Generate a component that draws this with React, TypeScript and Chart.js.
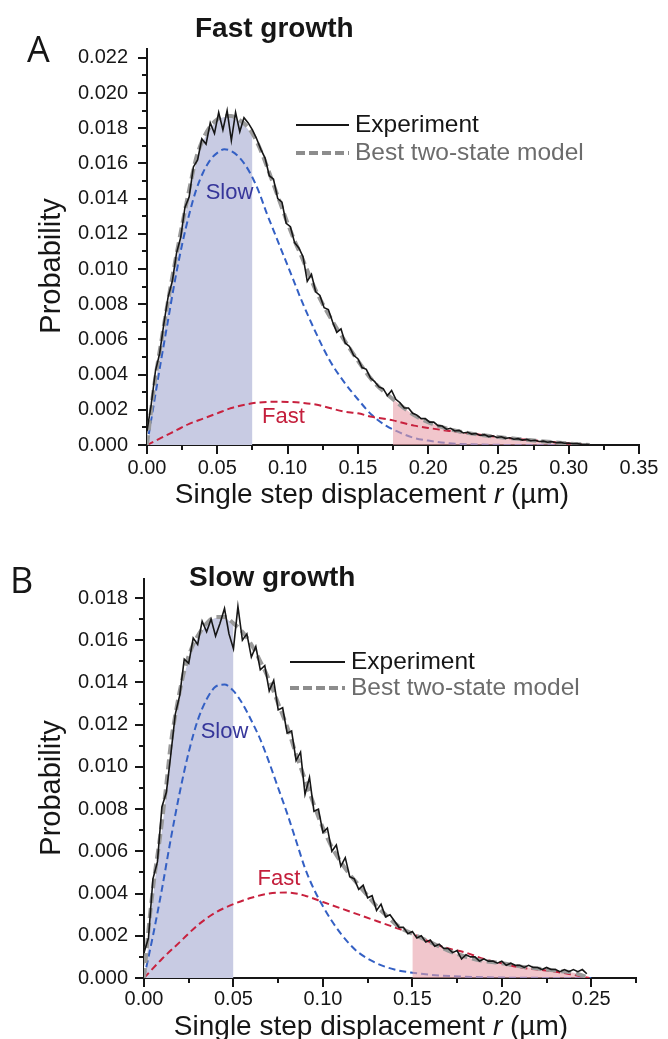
import React, { useEffect, useRef } from "react";
import { Chart, registerables } from "chart.js";

Chart.register(...registerables);

type Pt = [number, number];

const SANS = "'Liberation Sans', Arial, Helvetica, sans-serif";
const LETTER_FONT = "'Open Sans', 'DejaVu Sans', sans-serif";
const INK = "#161616";
const MODEL_GREY = "#9a9a9a";
const SLOW_BLUE = "#3460c4";
const FAST_RED = "#c8213e";
const SLOW_TEXT = "#36369a";
const FAST_TEXT = "#c41f3c";

// ---------------- Fast growth: displacement r (µm) vs probability ----------------
const fastGrowthExperiment: Pt[] = [
  [0, 0.0008], [0.003, 0.0023], [0.006, 0.0042], [0.009, 0.0052], [0.012, 0.0069], [0.015, 0.0084],
  [0.018, 0.0093], [0.021, 0.0109], [0.024, 0.0118], [0.027, 0.0135], [0.03, 0.0141], [0.033, 0.0158],
  [0.036, 0.0162], [0.039, 0.0174], [0.042, 0.0171], [0.045, 0.0183], [0.048, 0.0177], [0.051, 0.0189],
  [0.054, 0.0179], [0.057, 0.019], [0.06, 0.0173], [0.063, 0.0189], [0.066, 0.0178], [0.069, 0.0186],
  [0.072, 0.0183], [0.075, 0.0179], [0.078, 0.0174], [0.081, 0.0168], [0.084, 0.0163], [0.087, 0.0153],
  [0.09, 0.0151], [0.093, 0.014], [0.096, 0.0138], [0.099, 0.0126], [0.102, 0.0124], [0.105, 0.0115],
  [0.108, 0.0112], [0.111, 0.0107], [0.114, 0.0093], [0.117, 0.0097], [0.12, 0.0087], [0.123, 0.0085],
  [0.126, 0.0078], [0.129, 0.0077], [0.132, 0.007], [0.135, 0.0064], [0.138, 0.0066], [0.141, 0.0058],
  [0.144, 0.0056], [0.147, 0.0051], [0.15, 0.0049], [0.153, 0.0044], [0.156, 0.0043], [0.159, 0.0038],
  [0.162, 0.0036], [0.165, 0.0033], [0.168, 0.0032], [0.171, 0.0028], [0.174, 0.0031], [0.177, 0.0026],
  [0.18, 0.0024], [0.183, 0.0021], [0.186, 0.0021], [0.189, 0.0018], [0.192, 0.0017], [0.195, 0.0015],
  [0.198, 0.0015], [0.201, 0.0013], [0.204, 0.0013], [0.207, 0.0011], [0.21, 0.00108], [0.213, 0.0009],
  [0.216, 0.00095], [0.219, 0.0008], [0.222, 0.00083], [0.225, 0.00068], [0.228, 0.00072], [0.231, 0.00062],
  [0.234, 0.00065], [0.237, 0.00054], [0.24, 0.00059], [0.243, 0.00048], [0.246, 0.00052], [0.249, 0.00043],
  [0.252, 0.00047], [0.255, 0.00038], [0.258, 0.00041], [0.261, 0.00033], [0.264, 0.00036], [0.267, 0.00028],
  [0.27, 0.00032], [0.273, 0.00024], [0.276, 0.00027], [0.279, 0.0002], [0.282, 0.00022], [0.285, 0.00016],
  [0.288, 0.00019], [0.291, 0.00013], [0.294, 0.00015], [0.297, 0.0001], [0.3, 0.00011], [0.303, 0.00007],
  [0.306, 0.00008], [0.309, 0.00004], [0.312, 0.00004], [0.315, 0.00001],
];

const fastGrowthModel: Pt[] = [
  [0, 0], [0.005, 0.0033], [0.01, 0.0058], [0.015, 0.0082], [0.02, 0.0104], [0.025, 0.0125], [0.03, 0.0145],
  [0.035, 0.0163], [0.04, 0.0174], [0.045, 0.0181], [0.05, 0.0185], [0.055, 0.0187], [0.06, 0.0187],
  [0.065, 0.0185], [0.07, 0.0182], [0.075, 0.0177], [0.08, 0.0169], [0.085, 0.0159], [0.09, 0.0148],
  [0.095, 0.0137], [0.1, 0.0126], [0.105, 0.0116], [0.11, 0.0107], [0.12, 0.0088], [0.13, 0.0073],
  [0.14, 0.006], [0.15, 0.0048], [0.16, 0.0037], [0.175, 0.0026], [0.19, 0.0017], [0.2, 0.0013],
  [0.215, 0.0009], [0.23, 0.00066], [0.25, 0.00045], [0.27, 0.0003], [0.29, 0.00015], [0.315, 0],
];

const fastGrowthSlow: Pt[] = [
  [0, 0], [0.005, 0.0024], [0.01, 0.0048], [0.015, 0.0071], [0.02, 0.0094], [0.025, 0.0114], [0.03, 0.0131],
  [0.035, 0.0145], [0.04, 0.0155], [0.045, 0.0162], [0.05, 0.0166], [0.055, 0.0168], [0.06, 0.0167],
  [0.065, 0.0164], [0.07, 0.0159], [0.075, 0.0152], [0.08, 0.0143], [0.085, 0.0132], [0.09, 0.0122],
  [0.095, 0.0112], [0.1, 0.0102], [0.105, 0.0092], [0.11, 0.0082], [0.12, 0.0064], [0.13, 0.0048],
  [0.14, 0.0036], [0.15, 0.0026], [0.16, 0.0017], [0.17, 0.0011], [0.18, 0.0007], [0.19, 0.0004],
  [0.2, 0.00025], [0.215, 0.0001], [0.23, 0.00004], [0.25, 0.00001], [0.28, 0], [0.315, 0],
];

const fastGrowthFast: Pt[] = [
  [0, 0], [0.01, 0.0004], [0.02, 0.0008], [0.03, 0.0012], [0.04, 0.0015], [0.05, 0.0018], [0.06, 0.0021],
  [0.07, 0.0023], [0.08, 0.00242], [0.09, 0.00246], [0.1, 0.00245], [0.11, 0.0024], [0.12, 0.0023],
  [0.13, 0.0021], [0.14, 0.0019], [0.15, 0.0018], [0.16, 0.0016], [0.175, 0.0014], [0.19, 0.0011],
  [0.2, 0.00097], [0.215, 0.0008], [0.23, 0.00065], [0.25, 0.00045], [0.27, 0.0003], [0.29, 0.00015], [0.315, 0],
];

const fastGrowthXTicks = [0, 0.05, 0.1, 0.15, 0.2, 0.25, 0.3, 0.35];
const fastGrowthXMinor = [0.025, 0.075, 0.125, 0.175, 0.225, 0.275, 0.325];
const fastGrowthYTicks = [0, 0.002, 0.004, 0.006, 0.008, 0.01, 0.012, 0.014, 0.016, 0.018, 0.02, 0.022];
const fastGrowthYMinor = [0.001, 0.003, 0.005, 0.007, 0.009, 0.011, 0.013, 0.015, 0.017, 0.019, 0.021];

// ---------------- Slow growth ----------------
const slowGrowthExperiment: Pt[] = [
  [0, 0.0012], [0.0025, 0.0019], [0.005, 0.0047], [0.0075, 0.0055], [0.01, 0.0081], [0.0125, 0.0088],
  [0.015, 0.0106], [0.0175, 0.0125], [0.02, 0.0134], [0.0225, 0.0151], [0.025, 0.0149], [0.0275, 0.0161],
  [0.03, 0.0158], [0.0325, 0.0169], [0.035, 0.0164], [0.0375, 0.017], [0.04, 0.0162], [0.0425, 0.0168],
  [0.045, 0.0175], [0.0475, 0.0163], [0.05, 0.0156], [0.0525, 0.0176], [0.055, 0.016], [0.0575, 0.0163],
  [0.06, 0.0152], [0.0625, 0.0157], [0.065, 0.0146], [0.0675, 0.0148], [0.07, 0.0136], [0.0725, 0.0141],
  [0.075, 0.0127], [0.0775, 0.0128], [0.08, 0.0116], [0.0825, 0.0117], [0.085, 0.0103], [0.0875, 0.0107],
  [0.09, 0.0087], [0.0925, 0.0095], [0.095, 0.0079], [0.0975, 0.008], [0.1, 0.0069], [0.1025, 0.0071],
  [0.105, 0.006], [0.1075, 0.0063], [0.11, 0.0053], [0.1125, 0.0057], [0.115, 0.0048], [0.1175, 0.0047],
  [0.12, 0.0042], [0.1225, 0.0044], [0.125, 0.0038], [0.1275, 0.0039], [0.13, 0.0032], [0.1325, 0.0035],
  [0.135, 0.0029], [0.1375, 0.003], [0.14, 0.0027], [0.1425, 0.0024], [0.145, 0.0024], [0.1475, 0.0021],
  [0.15, 0.0022], [0.1525, 0.0019], [0.155, 0.002], [0.1575, 0.0017], [0.16, 0.0018], [0.1625, 0.0015],
  [0.165, 0.0016], [0.1675, 0.0014], [0.17, 0.0014], [0.1725, 0.0012], [0.175, 0.0013], [0.1775, 0.0009],
  [0.18, 0.0011], [0.1825, 0.001], [0.185, 0.001], [0.1875, 0.0008], [0.19, 0.0009], [0.1925, 0.0008],
  [0.195, 0.0008], [0.1975, 0.0007], [0.2, 0.0008], [0.2025, 0.0006], [0.205, 0.0007], [0.2075, 0.0006],
  [0.21, 0.0006], [0.2125, 0.0005], [0.215, 0.0006], [0.2175, 0.0005], [0.22, 0.0005], [0.2225, 0.0004],
  [0.225, 0.0005], [0.2275, 0.0004], [0.23, 0.0004], [0.2325, 0.0003], [0.235, 0.0004], [0.2375, 0.0003],
  [0.24, 0.0004], [0.2425, 0.0003], [0.245, 0.0004], [0.2475, 0.0002],
];

const slowGrowthModel: Pt[] = [
  [0, 0], [0.003, 0.0027], [0.006, 0.0049], [0.009, 0.0067], [0.012, 0.0088], [0.015, 0.0111], [0.018, 0.0127],
  [0.021, 0.014], [0.024, 0.015], [0.027, 0.0157], [0.03, 0.0162], [0.035, 0.0168], [0.04, 0.0171],
  [0.045, 0.0171], [0.05, 0.0168], [0.055, 0.0164], [0.06, 0.0158], [0.065, 0.015], [0.07, 0.0141],
  [0.075, 0.013], [0.08, 0.0119], [0.085, 0.0106], [0.09, 0.0094], [0.095, 0.0082], [0.1, 0.0071],
  [0.105, 0.0062], [0.11, 0.0055], [0.115, 0.0049], [0.12, 0.0044], [0.125, 0.0039], [0.13, 0.0034],
  [0.135, 0.003], [0.14, 0.0026], [0.145, 0.0023], [0.15, 0.0021], [0.16, 0.0017], [0.17, 0.0013],
  [0.18, 0.001], [0.19, 0.0008], [0.2, 0.0007], [0.21, 0.00055], [0.22, 0.00045], [0.23, 0.00035],
  [0.24, 0.00025], [0.249, 0],
];

const slowGrowthSlow: Pt[] = [
  [0, 0], [0.005, 0.002], [0.01, 0.0042], [0.015, 0.0066], [0.02, 0.0088], [0.025, 0.0107], [0.03, 0.0122],
  [0.035, 0.0132], [0.04, 0.0138], [0.045, 0.0139], [0.05, 0.0136], [0.055, 0.013], [0.06, 0.0122],
  [0.065, 0.0113], [0.07, 0.0102], [0.075, 0.009], [0.08, 0.0078], [0.085, 0.0065], [0.09, 0.0052],
  [0.095, 0.0042], [0.1, 0.0034], [0.105, 0.0027], [0.11, 0.0021], [0.115, 0.0016], [0.12, 0.0012],
  [0.13, 0.0007], [0.14, 0.0004], [0.15, 0.00025], [0.165, 0.00012], [0.18, 0.00006], [0.2, 0.00002], [0.25, 0],
];

const slowGrowthFast: Pt[] = [
  [0, 0], [0.01, 0.0009], [0.02, 0.0017], [0.03, 0.0025], [0.04, 0.0031], [0.05, 0.0035], [0.06, 0.0038],
  [0.07, 0.004], [0.08, 0.00405], [0.09, 0.0039], [0.1, 0.0036], [0.11, 0.0033], [0.12, 0.003], [0.13, 0.0027],
  [0.14, 0.0024], [0.15, 0.0021], [0.16, 0.0017], [0.17, 0.0014], [0.18, 0.0012], [0.19, 0.0009], [0.2, 0.0007],
  [0.21, 0.0005], [0.22, 0.0004], [0.23, 0.0003], [0.24, 0.00015], [0.249, 0],
];

const slowGrowthXTicks = [0, 0.05, 0.1, 0.15, 0.2, 0.25];
const slowGrowthXMinor = [0.025, 0.075, 0.125, 0.175, 0.225, 0.275];
const slowGrowthYTicks = [0, 0.002, 0.004, 0.006, 0.008, 0.01, 0.012, 0.014, 0.016, 0.018];
const slowGrowthYMinor = [0.001, 0.003, 0.005, 0.007, 0.009, 0.011, 0.013, 0.015, 0.017];

// ---------------- panel definitions ----------------
type Frame = {
  top: number; height: number; plotTop: number; plotRight: number; yAxisWidth: number; xAxisHeight: number;
  yTickPad: number; xTickPad: number; letterX: number; letterBase: number; titleX: number; titleBase: number;
  legendX0: number; legendX1: number; legendTextX: number; legendY1: number; legendY2: number;
  xTitleCenter: number; xTitleBase: number; yTitleX: number; yTitleY: number;
};

type PanelDef = {
  letter: string; title: string;
  experiment: Pt[]; model: Pt[]; slow: Pt[]; fast: Pt[];
  slowBand: [number, number]; fastBand: [number, number];
  xMax: number; yMax: number;
  xTicks: number[]; xMinor: number[]; yTicks: number[]; yMinor: number[];
  slowLabelAt: Pt; fastLabelAt: Pt;
  frame: Frame;
};

const panels: PanelDef[] = [
  {
    letter: "A", title: "Fast growth",
    experiment: fastGrowthExperiment, model: fastGrowthModel, slow: fastGrowthSlow, fast: fastGrowthFast,
    slowBand: [0, 0.075], fastBand: [0.175, 0.315],
    xMax: 0.35, yMax: 0.0225,
    xTicks: fastGrowthXTicks, xMinor: fastGrowthXMinor, yTicks: fastGrowthYTicks, yMinor: fastGrowthYMinor,
    slowLabelAt: [0.0587, 0.0143], fastLabelAt: [0.0971, 0.0016],
    frame: {
      top: 0, height: 520, plotTop: 49, plotRight: 639, yAxisWidth: 147, xAxisHeight: 75,
      yTickPad: 10, xTickPad: 2, letterX: 27, letterBase: 62, titleX: 195, titleBase: 37,
      legendX0: 296, legendX1: 349, legendTextX: 355, legendY1: 125, legendY2: 153,
      xTitleCenter: 372, xTitleBase: 503, yTitleX: 52, yTitleY: 266,
    },
  },
  {
    letter: "B", title: "Slow growth",
    experiment: slowGrowthExperiment, model: slowGrowthModel, slow: slowGrowthSlow, fast: slowGrowthFast,
    slowBand: [0, 0.05], fastBand: [0.15, 0.249],
    xMax: 0.275, yMax: 0.0189,
    xTicks: slowGrowthXTicks, xMinor: slowGrowthXMinor, yTicks: slowGrowthYTicks, yMinor: slowGrowthYMinor,
    slowLabelAt: [0.045, 0.01167], fastLabelAt: [0.0754, 0.00467],
    frame: {
      top: 520, height: 519, plotTop: 59, plotRight: 636, yAxisWidth: 144, xAxisHeight: 61,
      yTickPad: 7, xTickPad: 0, letterX: 10, letterBase: 73, titleX: 189, titleBase: 66,
      legendX0: 290, legendX1: 345, legendTextX: 351, legendY1: 142, legendY2: 168,
      xTitleCenter: 371, xTitleBase: 515, yTitleX: 52, yTitleY: 268,
    },
  },
];

const toXY = (pts: Pt[]) => pts.map(([x, y]) => ({ x, y }));
const within = (pts: Pt[], [lo, hi]: [number, number]) => pts.filter(([x]) => x >= lo - 1e-9 && x <= hi + 1e-9);

// Minor ticks, component labels, legend, panel letter and titles
function decorations(p: PanelDef) {
  return {
    id: "decor" + p.letter,
    afterDraw(chart: Chart) {
      const { ctx, chartArea: ca } = chart;
      const xs = chart.scales.x;
      const ys = chart.scales.y;
      const f = p.frame;
      ctx.save();

      ctx.strokeStyle = INK;
      ctx.lineWidth = 2;
      ctx.setLineDash([]);
      ctx.beginPath();
      for (const v of p.xMinor) {
        const px = Math.round(xs.getPixelForValue(v));
        ctx.moveTo(px, ca.bottom);
        ctx.lineTo(px, ca.bottom + 5);
      }
      for (const v of p.yMinor) {
        const py = Math.round(ys.getPixelForValue(v));
        ctx.moveTo(ca.left, py);
        ctx.lineTo(ca.left - 5, py);
      }
      ctx.stroke();

      ctx.textAlign = "center";
      ctx.textBaseline = "middle";
      ctx.font = `22px ${SANS}`;
      ctx.fillStyle = SLOW_TEXT;
      ctx.fillText("Slow", xs.getPixelForValue(p.slowLabelAt[0]), ys.getPixelForValue(p.slowLabelAt[1]));
      ctx.fillStyle = FAST_TEXT;
      ctx.fillText("Fast", xs.getPixelForValue(p.fastLabelAt[0]), ys.getPixelForValue(p.fastLabelAt[1]));

      // legend
      ctx.beginPath();
      ctx.strokeStyle = INK;
      ctx.lineWidth = 2;
      ctx.moveTo(f.legendX0, f.legendY1);
      ctx.lineTo(f.legendX1, f.legendY1);
      ctx.stroke();
      ctx.beginPath();
      ctx.strokeStyle = "#8d8d8d";
      ctx.lineWidth = 4;
      ctx.setLineDash([9, 4]);
      ctx.moveTo(f.legendX0, f.legendY2);
      ctx.lineTo(f.legendX1, f.legendY2);
      ctx.stroke();
      ctx.setLineDash([]);
      ctx.textAlign = "left";
      ctx.font = `24.5px ${SANS}`;
      ctx.fillStyle = INK;
      ctx.fillText("Experiment", f.legendTextX, f.legendY1);
      ctx.fillStyle = "#6c6c6c";
      ctx.fillText("Best two-state model", f.legendTextX, f.legendY2);

      // panel letter and title
      ctx.textBaseline = "alphabetic";
      ctx.fillStyle = INK;
      ctx.font = `36px ${LETTER_FONT}`;
      ctx.fillText(p.letter, f.letterX, f.letterBase);
      ctx.font = `bold 28px ${SANS}`;
      ctx.fillText(p.title, f.titleX, f.titleBase);

      // x axis title with italic r
      const parts: [string, string][] = [
        ["Single step displacement ", `28px ${SANS}`],
        ["r", `italic 28px ${SANS}`],
        [" (µm)", `28px ${SANS}`],
      ];
      let total = 0;
      for (const [t, fnt] of parts) {
        ctx.font = fnt;
        total += ctx.measureText(t).width;
      }
      let cx = f.xTitleCenter - total / 2;
      for (const [t, fnt] of parts) {
        ctx.font = fnt;
        ctx.fillText(t, cx, f.xTitleBase);
        cx += ctx.measureText(t).width;
      }

      // y axis title
      ctx.translate(f.yTitleX, f.yTitleY);
      ctx.rotate(-Math.PI / 2);
      ctx.textAlign = "center";
      ctx.textBaseline = "middle";
      ctx.font = `29px ${SANS}`;
      ctx.fillText("Probability", 0, 0);

      ctx.restore();
    },
  };
}

function buildConfig(p: PanelDef): any {
  const f = p.frame;
  const axisGrid = { display: true, drawOnChartArea: false, drawTicks: true, tickLength: 9, color: INK, lineWidth: 2 };
  const axisBorder = { display: true, color: INK, width: 2 };
  const tickFont = { family: SANS, size: 20 };
  const curve = { pointRadius: 0, fill: false, cubicInterpolationMode: "monotone" };
  return {
    type: "line",
    data: {
      datasets: [
        { label: "Experiment", data: toXY(p.experiment), borderColor: INK, borderWidth: 1.6, pointRadius: 0, tension: 0, fill: false },
        { label: "Best two-state model", data: toXY(p.model), borderColor: MODEL_GREY, borderWidth: 4, borderDash: [10, 5], ...curve },
        { label: "Fast", data: toXY(p.fast), borderColor: FAST_RED, borderWidth: 2, borderDash: [7, 4], ...curve },
        {
          label: "Fast share", data: toXY(within(p.model, p.fastBand)), borderColor: "rgba(0,0,0,0)", borderWidth: 0,
          backgroundColor: "rgba(232,160,170,0.6)", pointRadius: 0, fill: "origin", cubicInterpolationMode: "monotone",
        },
        { label: "Slow", data: toXY(p.slow), borderColor: SLOW_BLUE, borderWidth: 2, borderDash: [7, 4], ...curve },
        {
          label: "Slow share", data: toXY(within(p.model, p.slowBand)), borderColor: "#ffffff", borderWidth: 2,
          backgroundColor: "#c8cbe3", pointRadius: 0, fill: "origin", cubicInterpolationMode: "monotone",
        },
      ],
    },
    options: {
      responsive: false,
      animation: false,
      events: [],
      layout: { padding: { left: 0, top: f.plotTop, right: 668 - f.plotRight, bottom: 0 } },
      plugins: { legend: { display: false }, tooltip: { enabled: false }, title: { display: false } },
      scales: {
        x: {
          type: "linear", min: 0, max: p.xMax,
          afterBuildTicks: (s: any) => { s.ticks = p.xTicks.map((value) => ({ value })); },
          afterFit: (s: any) => { s.height = f.xAxisHeight; },
          ticks: { callback: (v: any) => Number(v).toFixed(2), font: tickFont, color: INK, padding: f.xTickPad, maxRotation: 0, autoSkip: false },
          grid: axisGrid, border: axisBorder,
        },
        y: {
          type: "linear", min: 0, max: p.yMax,
          afterBuildTicks: (s: any) => { s.ticks = p.yTicks.map((value) => ({ value })); },
          afterFit: (s: any) => { s.width = f.yAxisWidth; },
          ticks: { callback: (v: any) => Number(v).toFixed(3), font: tickFont, color: INK, padding: f.yTickPad, autoSkip: false },
          grid: axisGrid, border: axisBorder,
        },
      },
    },
    plugins: [decorations(p)],
  };
}

function PanelChart({ panel }: { panel: PanelDef }) {
  const ref = useRef<HTMLCanvasElement>(null);
  useEffect(() => {
    if (!ref.current) return;
    const chart = new Chart(ref.current, buildConfig(panel));
    return () => chart.destroy();
  }, [panel]);
  return (
    <canvas
      ref={ref}
      width={668}
      height={panel.frame.height}
      style={{ position: "absolute", left: 0, top: panel.frame.top, width: 668, height: panel.frame.height, display: "block" }}
    />
  );
}

export default function App() {
  return (
    <div style={{ position: "absolute", left: 0, top: 0, width: 668, height: 1039, background: "#ffffff", overflow: "hidden" }}>
      {panels.map((p) => (
        <PanelChart key={p.letter} panel={p} />
      ))}
    </div>
  );
}
